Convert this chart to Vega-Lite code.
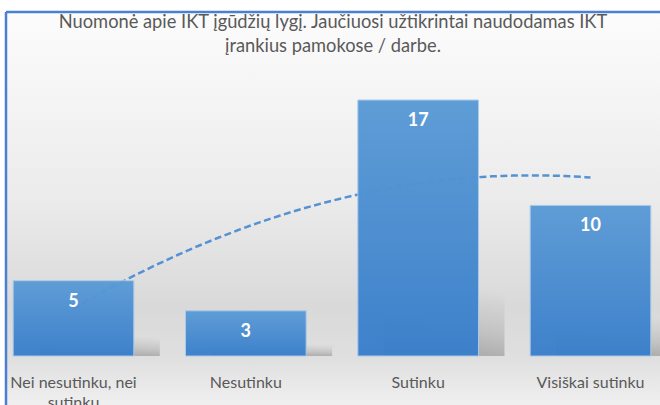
{
  "$schema": "https://vega.github.io/schema/vega-lite/v6.json",
  "autosize": "none",
  "width": 654,
  "height": 393,
  "padding": {"left": 6, "top": 12, "right": 0, "bottom": 0},
  "background": "white",
  "config": {"view": {"stroke": null}, "font": "Lato"},
  "title": {
    "text": ["Nuomonė apie IKT įgūdžių lygį. Jaučiuosi užtikrintai naudodamas IKT", "įrankius pamokose / darbe."],
    "orient": "top",
    "anchor": "middle",
    "frame": "group",
    "offset": -46,
    "font": "Lato",
    "fontSize": 18.3,
    "fontWeight": "normal",
    "color": "#595959",
    "lineHeight": 24,
    "zindex": 2
  },
  "datasets": {
    "survey": [
      {"category": "Nei nesutinku, nei sutinku", "idx": 1, "value": 5},
      {"category": "Nesutinku", "idx": 2, "value": 3},
      {"category": "Sutinku", "idx": 3, "value": 17},
      {"category": "Visiškai sutinku", "idx": 4, "value": 10}
    ]
  },
  "layer": [
    {
      "data": {"values": [{}]},
      "mark": {
        "type": "rect",
        "fill": {
          "gradient": "linear", "x1": 0, "y1": 0, "x2": 0, "y2": 1,
          "stops": [
            {"offset": 0, "color": "#fcfcfc"},
            {"offset": 0.12, "color": "#f8f8f8"},
            {"offset": 0.48, "color": "#ebebeb"},
            {"offset": 0.75, "color": "#d9d9d9"},
            {"offset": 0.88, "color": "#dfdfdf"},
            {"offset": 1, "color": "#f0f0f0"}
          ]
        },
        "stroke": "#4a7fd1",
        "strokeWidth": 2.5,
        "strokeDash": [654, 1047, 393, 0]
      },
      "encoding": {}
    },
    {
      "data": {"name": "survey"},
      "mark": {
        "type": "bar",
        "xOffset": 26,
        "fill": {
          "gradient": "linear", "x1": 0.78, "y1": 0.95, "x2": 1, "y2": 0.1,
          "stops": [
            {"offset": 0, "color": "rgba(110,110,110,0.42)"},
            {"offset": 0.35, "color": "rgba(120,120,120,0.25)"},
            {"offset": 1, "color": "rgba(140,140,140,0)"}
          ]
        }
      },
      "encoding": {
        "x": {"field": "category", "type": "nominal", "sort": null, "axis": null,
              "scale": {"range": [-18.67, 670.67], "paddingInner": 0.3, "paddingOuter": 0.15}},
        "y": {"field": "value", "type": "quantitative", "axis": null,
              "scale": {"domain": [0, 62], "range": [344, 88], "nice": false, "zero": true}}
      }
    },
    {
      "data": {"name": "survey"},
      "transform": [
        {"regression": "value", "on": "idx", "method": "poly", "order": 2, "extent": [1, 4]}
      ],
      "mark": {"type": "line", "color": "#5592d3", "strokeWidth": 2.5, "strokeDash": [7, 3.5]},
      "encoding": {
        "x": {"field": "idx", "type": "quantitative", "axis": null,
              "scale": {"domain": [1, 4], "range": [67.5, 584.5], "nice": false, "zero": false}},
        "y": {"field": "value", "type": "quantitative", "axis": null,
              "scale": {"domain": [0, 17], "range": [344, 88], "nice": false, "zero": true}}
      }
    },
    {
      "data": {"name": "survey"},
      "layer": [
        {
          "mark": {
            "type": "bar",
            "opacity": 0.97,
            "stroke": "#a9c9ec",
            "strokeWidth": 1,
            "fill": {
              "gradient": "linear", "x1": 0, "y1": 0, "x2": 0, "y2": 1,
              "stops": [
                {"offset": 0, "color": "#5b9bd6"},
                {"offset": 1, "color": "#3a7fcb"}
              ]
            }
          },
          "encoding": {
            "x": {"field": "category", "type": "nominal", "sort": null, "title": null,
                  "scale": {"range": [-18.67, 670.67], "paddingInner": 0.3, "paddingOuter": 0.15},
                  "axis": {"orient": "bottom", "offset": -49, "domain": false, "ticks": false, "tickSize": 0,
                           "zindex": 1,
                           "labelPadding": 18, "labelAngle": 0, "labelFont": "Lato", "labelFontSize": 16,
                           "labelColor": "#595959", "labelLineHeight": 20, "labelLimit": 300,
                           "labelExpr": "datum.label == 'Nei nesutinku, nei sutinku' ? ['Nei nesutinku, nei', 'sutinku'] : datum.label"}},
            "y": {"field": "value", "type": "quantitative", "axis": null,
                  "scale": {"domain": [0, 17], "range": [344, 88], "nice": false, "zero": true}}
          }
        },
        {
          "mark": {"type": "text", "color": "white", "font": "Lato", "fontSize": 18, "fontWeight": "bold",
                   "baseline": "middle", "dy": 21},
          "encoding": {
            "x": {"field": "category", "type": "nominal", "sort": null},
            "y": {"field": "value", "type": "quantitative"},
            "text": {"field": "value", "type": "quantitative"}
          }
        }
      ]
    }
  ],
  "resolve": {"scale": {"x": "independent", "y": "independent"}}
}
